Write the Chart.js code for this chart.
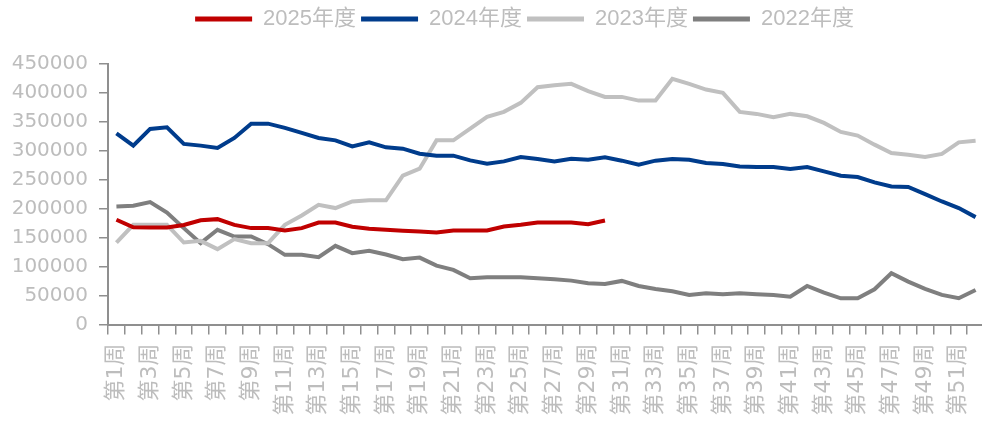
<!DOCTYPE html>
<html>
<head>
<meta charset="utf-8">
<script src="https://cdn.jsdelivr.net/npm/chart.js@4"></script>
<style>
  html, body { margin: 0; padding: 0; background: #fff; overflow: hidden; }
  #wrap { position: relative; width: 1011px; height: 423px; }
</style>
</head>
<body>
<div id="wrap"><canvas id="weeklyChart"></canvas></div>
<script>
const weeks = [
  "第1周", "第2周", "第3周", "第4周", "第5周", "第6周", "第7周", "第8周", "第9周", "第10周",
  "第11周", "第12周", "第13周", "第14周", "第15周", "第16周", "第17周", "第18周", "第19周", "第20周",
  "第21周", "第22周", "第23周", "第24周", "第25周", "第26周", "第27周", "第28周", "第29周", "第30周",
  "第31周", "第32周", "第33周", "第34周", "第35周", "第36周", "第37周", "第38周", "第39周", "第40周",
  "第41周", "第42周", "第43周", "第44周", "第45周", "第46周", "第47周", "第48周", "第49周", "第50周",
  "第51周", "第52周"
];

const y2025 = [
  181000, 168000, 167500, 167500, 172000, 180000, 182000, 172000, 166500, 166500,
  162500, 166500, 176000, 176000, 169000, 165500, 163500, 161800, 160600, 159000,
  162400, 162400, 162400, 169300, 172200, 176200, 176200, 176200, 173400, 179700
];

const y2024 = [
  330000, 309000, 337800, 340600, 311900, 309000, 305000, 322300, 347000, 347000,
  339600, 331000, 322300, 318100, 307700, 314700, 306000, 303700, 295100, 291600,
  291600, 283500, 277800, 281800, 289400, 285900, 281800, 286400, 284700, 288700,
  283000, 276100, 283000, 285900, 284700, 279000, 277300, 273100, 272100, 272100,
  268600, 272100, 264500, 257000, 254800, 245400, 238500, 237500, 225300, 212500,
  201100, 185500
];

const y2023 = [
  141600, 172200, 172200, 172200, 141600, 144500, 130200, 147500, 140500, 140500,
  172200, 188300, 206800, 201100, 212500, 214500, 214500, 257000, 269100, 318100,
  318100, 338400, 358600, 367300, 382900, 409900, 413300, 415700, 403000, 393200,
  393200, 386800, 386800, 424400, 415700, 405900, 400200, 367300, 363800, 357900,
  363800, 359700, 348200, 332700, 326300, 310700, 296300, 293400, 289400, 294600,
  314700, 317600
];

const y2022 = [
  203900, 205100, 211500, 193500, 166500, 140500, 163600, 152000, 152000, 138800,
  120300, 120300, 116300, 135900, 123200, 127200, 121000, 112800, 115600, 101800,
  94300, 80000, 81700, 81700, 81700, 80000, 78200, 75800, 71300, 70100,
  75300, 66600, 61400, 57500, 51100, 54000, 52300, 54000, 52300, 51100,
  48100, 66600, 55000, 45300, 45300, 60900, 88600, 74100, 61400, 51100,
  45300, 59700
];

const seriesNames = ["2025年度", "2024年度", "2023年度", "2022年度"];
const seriesColors = ["#c00000", "#003c8c", "#c0c0c0", "#7f7f7f"];

document.addEventListener("DOMContentLoaded", () => {
  const axisColor = "#8f8f8f";
  const textColor = "#bdbdbd";
  const labelFont = "'DejaVu Sans', 'Noto Sans CJK SC', sans-serif";

  // legend gets a fixed height and a small nudge right/down
  const legendPlace = {
    id: "legendPlace",
    beforeInit(chart) {
      const fit = chart.legend.fit;
      chart.legend.fit = function () {
        fit.call(this);
        this.height = 64;
      };
    },
    afterLayout(chart) {
      chart.legend.left += 19;
      chart.legend.right += 19;
      chart.legend.top += 3;
    }
  };

  const makeSet = (i, data) => ({
    label: seriesNames[i],
    data: data,
    borderColor: seriesColors[i],
    backgroundColor: seriesColors[i],
    borderWidth: 4,
    pointRadius: 0,
    tension: 0,
    fill: false
  });

  const ctx = document.getElementById("weeklyChart").getContext("2d");
  new Chart(ctx, {
    type: "line",
    data: {
      labels: weeks,
      datasets: [
        makeSet(0, y2025),
        makeSet(1, y2024),
        makeSet(2, y2023),
        makeSet(3, y2022)
      ]
    },
    options: {
      responsive: true,
      maintainAspectRatio: false,
      animation: false,
      layout: { padding: 0 },
      plugins: {
        tooltip: { enabled: false },
        legend: {
          position: "top",
          labels: {
            boxWidth: 57,
            boxHeight: 5,
            padding: 5,
            color: textColor,
            font: { family: "'Liberation Sans', 'Noto Sans CJK SC', sans-serif", size: 22 },
            generateLabels: chart =>
              Chart.defaults.plugins.legend.labels.generateLabels(chart).map(l => ({ ...l, lineWidth: 0 }))
          }
        }
      },
      scales: {
        x: {
          offset: true,
          grid: {
            offset: true,
            drawOnChartArea: false,
            color: axisColor,
            lineWidth: 1.5,
            tickLength: 10
          },
          border: { color: axisColor, width: 2 },
          ticks: {
            autoSkip: false,
            maxRotation: 90,
            minRotation: 90,
            padding: 9,
            color: textColor,
            font: { family: labelFont, size: 22 },
            callback: (v, i) => (i % 2 === 0 ? weeks[i] : "")
          },
          afterFit: s => { s.height = 98.5; }
        },
        y: {
          min: 0,
          max: 450000,
          grid: {
            drawOnChartArea: false,
            color: axisColor,
            lineWidth: 1.5,
            tickLength: 9
          },
          border: { color: axisColor, width: 2 },
          ticks: {
            stepSize: 50000,
            padding: 11,
            color: textColor,
            font: { family: labelFont, size: 20 },
            callback: v => String(v)
          },
          afterFit: s => { s.width = 108; }
        }
      }
    },
    plugins: [legendPlace]
  });
});
</script>
</body>
</html>
